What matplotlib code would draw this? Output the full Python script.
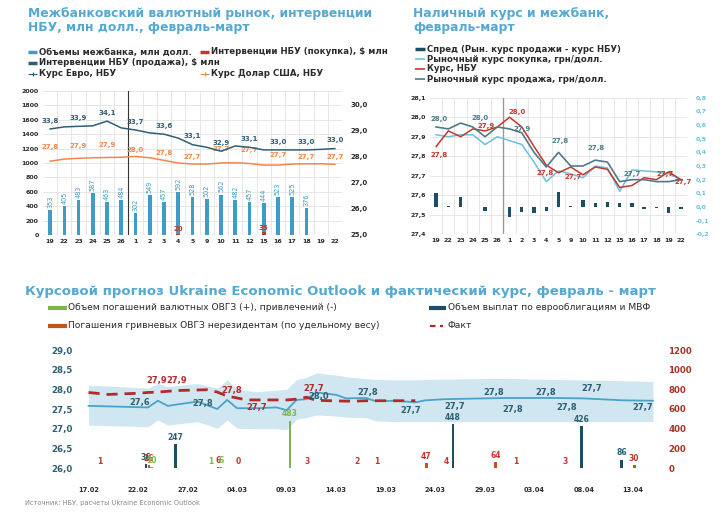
import numpy as np
import pandas as pd
import matplotlib
matplotlib.use("Agg")
import matplotlib.pyplot as plt
import matplotlib.dates as mdates
from matplotlib.lines import Line2D
from matplotlib.ticker import FuncFormatter

plt.rcParams['font.family'] = ['DejaVu Sans']

W, H = 720, 517

# --- Панель 1: межбанк и интервенции
days_top = ['19', '22', '23', '24', '25', '26', '1', '2', '3', '4', '5',
            '9', '10', '11', '12', '15', '16', '17', '18', '19', '22']
volume = [353, 405, 483, 587, 463, 484, 302, 549, 457, 592, 528,
          502, 562, 482, 457, 444, 523, 525, 376, np.nan, np.nan]
nbu_buy = [np.nan] * 9 + [20] + [np.nan] * 5 + [35] + [np.nan] * 5
nbu_sell = [np.nan] * 21
eur = [33.8, 33.88, 33.9, 33.92, 34.1, 33.84, 33.76, 33.65, 33.6, 33.45, 33.2,
       33.1, 32.95, 33.15, 33.1, 33.0, 33.0, 33.0, 33.0, 33.02, 33.05]
usd = [27.82, 27.9, 27.93, 27.95, 27.96, 27.97, 28.0, 27.95, 27.85, 27.75, 27.71,
       27.71, 27.75, 27.76, 27.73, 27.67, 27.67, 27.71, 27.72, 27.72, 27.70]
lab_idx = [0, 2, 4, 6, 8, 10, 12, 14, 16, 18, 20]
eur_lab = ['33,8', '33,9', '34,1', '33,7', '33,6', '33,1', '32,9', '33,1', '33,0', '33,0', '33,0']
usd_lab = ['27,8', '27,9', '27,9', '28,0', '27,8', '27,7', '27,7', '27,7', '27,7', '27,7', '27,7']
usd_dy = [10, 9, 9, 5, 5, 5, 10, 10, 7, 5, 5]

# --- Панель 2: наличный курс
sell = [27.95, 27.94, 27.97, 27.95, 27.90, 27.95, 27.94, 27.92, 27.82, 27.745, 27.82,
        27.75, 27.75, 27.78, 27.77, 27.67, 27.68, 27.68, 27.67, 27.67, 27.68]
nbu = [27.85, 27.93, 27.90, 27.94, 27.93, 27.95, 28.00, 27.95, 27.85, 27.755, 27.715,
       27.745, 27.705, 27.745, 27.733, 27.64, 27.65, 27.69, 27.68, 27.72, 27.68]
buy = [27.91, 27.90, 27.91, 27.91, 27.86, 27.90, 27.88, 27.86, 27.77, 27.67, 27.725,
       27.71, 27.69, 27.75, 27.74, 27.62, 27.73, 27.725, 27.72, 27.71, 27.68]
spread = [0.10, 0.01, 0.07, 0.003, -0.03, 0.003, -0.07, -0.035, -0.045, -0.03, 0.11,
          0.005, 0.05, 0.03, 0.04, 0.03, 0.03, -0.015, -0.01, -0.045, -0.015]
sell_lab = [(0.26, 27.99, '28,0'), (3.6, 27.996, '28,0'), (7.0, 27.94, '27,9'),
            (10.1, 27.88, '27,8'), (13.06, 27.84, '27,8'), (16.0, 27.71, '27,7')]
nbu_lab = [(0.26, 27.805, '27,8'), (4.1, 27.953, '27,9'), (6.6, 28.027, '28,0'),
           (8.9, 27.714, '27,8'), (11.2, 27.694, '27,7'), (18.7, 27.71, '27,7'),
           (20.2, 27.67, '27,7')]

# --- Панель 3: прогноз и факт
base = pd.Timestamp('2021-02-17')
fc_day = [0, 6, 7, 8, 11, 13, 14, 15, 17, 19, 20, 21, 22, 23, 25, 26, 28, 29,
          31, 33, 34, 36, 42, 47, 50, 54, 57]
forecast = [27.58, 27.54, 27.71, 27.58, 27.69, 27.5, 27.73, 27.52, 27.52, 27.54, 27.47,
            27.73, 27.75, 27.92, 27.86, 27.77, 27.78, 27.7, 27.71, 27.67, 27.72, 27.75,
            27.78, 27.78, 27.77, 27.72, 27.71]
band_hi = [28.11, 28.03, 28.15, 28.07, 28.15, 28.03, 28.24, 28.0, 27.94, 27.98, 28.0,
           28.25, 28.3, 28.42, 28.36, 28.32, 28.27, 28.25, 28.24, 28.24, 28.25, 28.26,
           28.28, 28.25, 28.24, 28.22, 28.2]
band_lo = [27.09, 27.05, 27.22, 27.09, 27.18, 27.01, 27.22, 27.01, 27.0, 27.0, 26.97,
           27.24, 27.28, 27.35, 27.32, 27.29, 27.28, 27.2, 27.18, 27.18, 27.18, 27.18,
           27.18, 27.18, 27.18, 27.18, 27.18]
fact_day = [0, 2, 5, 6, 7, 9, 12, 13, 14, 16, 20, 21, 22, 23, 26, 27, 28, 29, 30, 33]
fact = [27.92, 27.87, 27.9, 27.92, 27.93, 27.97, 27.99, 27.93, 27.83, 27.73, 27.73,
        27.75, 27.8, 27.72, 27.70, 27.70, 27.71, 27.71, 27.71, 27.71]
fc_lab = [(5.2, 27.66, '27,6'), (11.5, 27.65, '27,8'), (23.2, 27.81, '28,0'),
          (28.2, 27.91, '27,8'), (32.5, 27.47, '27,7'), (37.0, 27.56, '27,7'),
          (40.9, 27.92, '27,8'), (42.8, 27.5, '27,8'), (46.2, 27.93, '27,8'),
          (48.3, 27.55, '27,8'), (50.8, 28.03, '27,7'), (56.0, 27.53, '27,7')]
fact_lab = [(6.9, 28.22, '27,9'), (8.9, 28.22, '27,9'), (14.5, 27.98, '27,8'),
            (17.0, 27.54, '27,7'), (22.7, 28.03, '27,7')]
euro_day = [6, 9, 37, 50, 54]
euro_val = [36, 247, 448, 426, 86]
uah_day = [1, 6, 13, 15, 22, 27, 29, 34, 36, 41, 43, 48, 55]
uah_val = [1, 26, 6, 0, 3, 2, 1, 47, 4, 64, 1, 3, 30]
fx_day = [6, 12, 13, 20]
fx_val = [10, 1, 6, 483]

C_TITLE = '#55a9d0'
C_TXT = '#2b2b2b'
C_BAR = '#3d9dc6'
C_TEAL = '#2f5f74'
C_ORANGE = '#f0874c'
C_RED = '#c0392b'
C_NAVY = '#1d4e63'
C_BUY = '#6cc0de'
C_SELL = '#4d7b8c'
C_GRID = '#e3e3e3'
C_BAND = '#d0e7f1'
C_FC = '#4ba3c9'
C_FACT = '#b22a2a'
C_GREEN = '#7ab648'
C_UAH = '#c0561c'

comma1 = FuncFormatter(lambda v, p: f'{v:.1f}'.replace('.', ','))

fig = plt.figure(figsize=(W / 100, H / 100), dpi=100)


def fx(x):
    return x / W


def fy(y):
    return 1 - y / H


def legend_item(x, y, text, color, length=9, lw=2.5, ls='-', size=6.2,
                weight='bold', marker=None, gap=2):
    fig.add_artist(Line2D([fx(x), fx(x + length)], [fy(y), fy(y)], color=color,
                          lw=lw, ls=ls, solid_capstyle='butt',
                          transform=fig.transFigure))
    if marker:
        fig.add_artist(Line2D([fx(x + length / 2)], [fy(y)], color=color, marker=marker,
                              ms=3, mew=0.8, transform=fig.transFigure))
    fig.text(fx(x + length + gap), fy(y), text, va='center', ha='left', fontsize=size,
             fontweight=weight, color=C_TXT)


# ---------- панель 1
fig.text(fx(28), fy(7), 'Межбанковский валютный рынок, интервенции\nНБУ, млн долл., февраль-март',
         ha='left', va='top', fontsize=8.9, fontweight='bold', color=C_TITLE, linespacing=1.1)
legend_item(28, 52, 'Объемы межбанка, млн долл.', C_BAR)
legend_item(200, 52, 'Интервенции НБУ (покупка), $ млн', C_RED)
legend_item(28, 63, 'Интервенции НБУ (продажа), $ млн', C_TEAL)
legend_item(28, 74, 'Курс Евро, НБУ', C_TEAL, lw=0.8, marker='+')
legend_item(200, 74, 'Курс Долар США, НБУ', C_ORANGE, lw=0.8, marker='+')

x = np.arange(len(days_top))
ax1 = fig.add_axes([fx(43), fy(235), 299 / W, 144 / H])
ax1.set_axisbelow(True)
ax1.bar(x, volume, width=0.26, color=C_BAR, zorder=3)
ax1.bar(x, nbu_buy, width=0.26, color=C_RED, zorder=3)
ax1.bar(x, nbu_sell, width=0.26, color=C_TEAL, zorder=3)
for i, v in enumerate(volume):
    if not np.isnan(v):
        ax1.annotate(f'{v:.0f}', (i, v), xytext=(0, 1.5), textcoords='offset points',
                     rotation=90, ha='center', va='bottom', fontsize=4.7, color=C_BAR)
for i, v in enumerate(nbu_buy):
    if not np.isnan(v):
        ax1.annotate(f'{v:.0f}', (i, v), xytext=(0, 1), textcoords='offset points',
                     ha='center', va='bottom', fontsize=5, fontweight='bold', color=C_RED)
ax1.set_xlim(-0.5, len(x) - 0.5)
ax1.set_ylim(0, 2000)
ax1.set_yticks(range(0, 2001, 200))
ax1.set_xticks(x)
ax1.set_xticklabels(days_top)
ax1.set_xticks(x[:-1] + 0.5, minor=True)
ax1.grid(which='minor', axis='x', color=C_GRID, lw=0.6)
ax1.grid(which='major', axis='y', color=C_GRID, lw=0.6)
ax1.tick_params(which='both', length=0, labelsize=4.5, pad=3, colors=C_TXT)
for t in ax1.get_xticklabels() + ax1.get_yticklabels():
    t.set_fontweight('bold')
ax1.axvline(5.5, color='#333333', lw=0.8, zorder=4)
for s in ax1.spines.values():
    s.set_visible(False)

ax1r = ax1.twinx()
ax1r.plot(x, usd, color=C_ORANGE, lw=1.1)
for i, t, dy in zip(lab_idx, usd_lab, usd_dy):
    ax1r.annotate(t, (i, usd[i]), xytext=(0, dy), textcoords='offset points', ha='center',
                  va='center', fontsize=5, fontweight='bold', color=C_ORANGE)
ax1r.set_ylim(25, 30.5)
ax1r.set_yticks(np.arange(25, 30.01, 1))
ax1r.yaxis.set_major_formatter(comma1)
ax1r.tick_params(length=0, labelsize=5, pad=6, colors=C_TXT)
for t in ax1r.get_yticklabels():
    t.set_fontweight('bold')
for s in ax1r.spines.values():
    s.set_visible(False)

ax1e = ax1.twinx()
ax1e.plot(x, eur, color=C_TEAL, lw=1.1)
for i, t in zip(lab_idx, eur_lab):
    ax1e.annotate(t, (i, eur[i]), xytext=(0, 6), textcoords='offset points', ha='center',
                  va='center', fontsize=5, fontweight='bold', color=C_TEAL)
ax1e.set_ylim(29.75, 35.25)
ax1e.axis('off')

# ---------- панель 2
fig.text(fx(413), fy(7), 'Наличный курс и межбанк,\nфевраль-март', ha='left', va='top',
         fontsize=8.9, fontweight='bold', color=C_TITLE, linespacing=1.1)
legend_item(415, 49, 'Спред (Рын. курс продажи - курс НБУ)', C_NAVY, length=10, size=6.1)
legend_item(415, 59, 'Рыночный курс покупка, грн/долл.', C_BUY, length=10, lw=1.2, size=6.1)
legend_item(415, 68.5, 'Курс, НБУ', C_RED, length=10, lw=1.2, size=6.1)
legend_item(415, 79, 'Рыночный курс продажа, грн/долл.', C_SELL, length=10, lw=1.2, size=6.1)

ax2 = fig.add_axes([fx(430), fy(234.3), 257 / W, 136.6 / H])
ax2.set_axisbelow(True)
ax2.plot(x, buy, color=C_BUY, lw=1.1, zorder=3)
ax2.plot(x, nbu, color=C_RED, lw=1.1, zorder=3)
ax2.plot(x, sell, color=C_SELL, lw=1.2, zorder=3)
for xi, yi, t in sell_lab:
    ax2.text(xi, yi, t, ha='center', va='center', fontsize=5, fontweight='bold', color=C_SELL)
for xi, yi, t in nbu_lab:
    ax2.text(xi, yi, t, ha='center', va='center', fontsize=5, fontweight='bold', color=C_RED)
ax2.set_xlim(-0.5, len(x) - 0.5)
ax2.set_ylim(27.4, 28.1)
ax2.set_yticks(np.arange(27.4, 28.11, 0.1))
ax2.yaxis.set_major_formatter(comma1)
ax2.set_xticks(x)
ax2.set_xticklabels(days_top)
ax2.set_xticks(x[:-1] + 0.5, minor=True)
ax2.grid(which='minor', axis='x', color=C_GRID, lw=0.6)
ax2.grid(which='major', axis='y', color=C_GRID, lw=0.6)
ax2.tick_params(which='both', length=0, labelsize=4.5, pad=3, colors=C_TXT)
for t in ax2.get_xticklabels() + ax2.get_yticklabels():
    t.set_fontweight('bold')
ax2.axvline(5.5, color='#999999', lw=1.0, zorder=2)
for s in ax2.spines.values():
    s.set_visible(False)

ax2r = ax2.twinx()
ax2r.bar(x, spread, width=0.28, color=C_NAVY)
ax2r.set_ylim(-0.2, 0.8)
ax2r.set_yticks(np.arange(-0.2, 0.81, 0.1))
ax2r.yaxis.set_major_formatter(comma1)
ax2r.tick_params(length=0, labelsize=4.5, pad=6, colors=C_BUY)
for t in ax2r.get_yticklabels():
    t.set_fontweight('bold')
for s in ax2r.spines.values():
    s.set_visible(False)

# ---------- панель 3
fig.text(fx(25), fy(291), 'Курсовой прогноз Ukraine Economic Outlook и фактический курс, февраль - март',
         ha='left', va='center', fontsize=9.5, fontweight='bold', color=C_TITLE)
legend_item(48, 308, 'Объем погашений валютных ОВГЗ (+), привлечений (-)', C_GREEN,
            length=19, lw=3, size=6.6, weight='normal', gap=1.5)
legend_item(48, 326, 'Погашения гривневых ОВГЗ нерезидентам (по удельному весу)', C_UAH,
            length=19, lw=3, size=6.6, weight='normal', gap=1.5)
legend_item(429, 308, 'Объем выплат по еврооблигациям и МВФ', C_NAVY,
            length=17, lw=3, size=6.6, weight='normal', gap=1.5)
legend_item(430, 326, 'Факт', C_FACT, length=13, lw=1.6, ls=(0, (2.5, 2)),
            size=6.6, weight='normal', gap=5)

b0 = mdates.date2num(base)
fc_x = b0 + np.array(fc_day)
fact_x = b0 + np.array(fact_day)

ax3 = fig.add_axes([fx(81), fy(468), 575 / W, 118 / H])
ax3.fill_between(fc_x, band_lo, band_hi, color=C_BAND, lw=0)
ax3.plot(fc_x, forecast, color=C_FC, lw=1.3)
ax3.plot(fact_x, fact, color=C_FACT, lw=2.0, dashes=(4, 2.5))
for d, yv, t in fc_lab:
    ax3.text(b0 + d, yv, t, ha='center', va='center', fontsize=6, fontweight='bold', color=C_TEAL)
for d, yv, t in fact_lab:
    ax3.text(b0 + d, yv, t, ha='center', va='center', fontsize=6, fontweight='bold', color=C_FACT)
ax3.axhline(26, color='#d5d5d5', lw=0.8)
ax3.set_ylim(26, 29)
ax3.set_yticks(np.arange(26, 29.01, 0.5))
ax3.yaxis.set_major_formatter(comma1)
ax3.set_xlim(b0 - 0.76, b0 + 57.3)
ticks = pd.date_range('2021-02-17', '2021-04-13', freq='5D')
ax3.set_xticks(mdates.date2num(ticks))
ax3.set_xticklabels([t.strftime('%d.%m') for t in ticks])
ax3.tick_params(axis='y', length=0, labelsize=6.2, pad=6, colors=C_TEAL)
ax3.tick_params(axis='x', length=0, labelsize=4.8, pad=14, colors=C_TXT)
for t in ax3.get_xticklabels() + ax3.get_yticklabels():
    t.set_fontweight('bold')
for s in ax3.spines.values():
    s.set_visible(False)

ax3r = ax3.twinx()
bar_groups = [(euro_day, euro_val, -0.2, C_NAVY, C_TEAL),
              (uah_day, uah_val, 0.1, C_UAH, C_RED),
              (fx_day, fx_val, 0.35, C_GREEN, C_GREEN)]
for days, vals, off, bc, tc in bar_groups:
    xs = b0 + np.array(days) + off
    ax3r.bar(xs, vals, width=0.28, color=bc)
    for xi, v in zip(xs, vals):
        ax3r.annotate(str(v), (xi, v), xytext=(0, 1.5), textcoords='offset points',
                      ha='center', va='bottom', fontsize=5.5, fontweight='bold', color=tc)
ax3r.set_ylim(0, 1200)
ax3r.set_yticks(range(0, 1201, 200))
ax3r.tick_params(length=0, labelsize=6.2, pad=9, colors='#a93226')
for t in ax3r.get_yticklabels():
    t.set_fontweight('bold')
for s in ax3r.spines.values():
    s.set_visible(False)

fig.text(fx(25), fy(503), 'Источник: НБУ, расчеты Ukraine Economic Outlook', ha='left',
         va='center', fontsize=4.8, color='#888888')

fig.savefig('out.png', dpi=100, facecolor='white')
